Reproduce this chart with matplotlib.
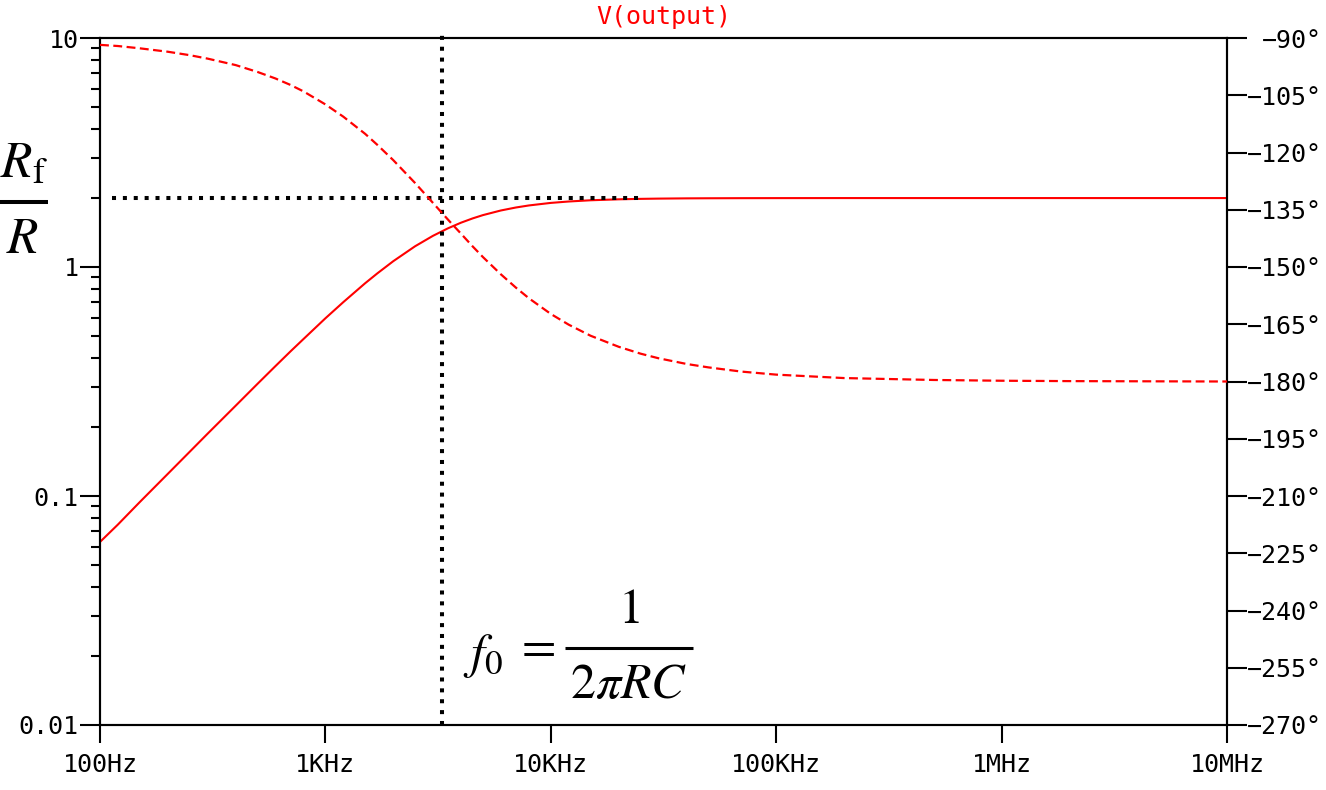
import matplotlib
matplotlib.use("Agg")
import matplotlib.pyplot as plt
from matplotlib.lines import Line2D
from matplotlib.ticker import FixedLocator, NullFormatter, LogLocator

plt.rcParams['font.family'] = ['DejaVu Sans Mono']
plt.rcParams['mathtext.fontset'] = 'stix'

# Frequencies (Hz) at which curve values were read
freq = [100, 120, 150, 200, 250, 300, 400, 500, 600, 700, 800, 1000, 1200,
        1500, 1700, 2000, 2500, 3000, 3500, 4000, 4500, 5000, 6000, 7000,
        8000, 10000, 12000, 15000, 20000, 25000, 30000, 40000, 50000, 70000,
        100000, 200000, 500000, 1e6, 2e6, 1e7]
# Gain |V(output)| (left log axis)
gain = [0.063, 0.075, 0.094, 0.125, 0.156, 0.187, 0.248, 0.309, 0.369, 0.428,
        0.485, 0.597, 0.702, 0.849, 0.938, 1.060, 1.232, 1.368, 1.476, 1.562,
        1.630, 1.685, 1.765, 1.819, 1.857, 1.905, 1.932, 1.956, 1.975, 1.984,
        1.989, 1.994, 1.996, 1.998, 1.999, 2.0, 2.0, 2.0, 2.0, 2.0]
# Phase in degrees (right axis)
phase = [-91.8, -92.1, -92.7, -93.6, -94.5, -95.4, -97.1, -98.9, -100.6,
         -102.3, -104.0, -107.4, -110.6, -115.1, -118.0, -122.0, -128.0,
         -133.2, -137.6, -141.3, -144.6, -147.4, -151.9, -155.4, -158.2,
         -162.3, -165.1, -168.0, -170.9, -172.7, -173.9, -175.4, -176.3,
         -177.4, -178.2, -179.1, -179.6, -179.8, -179.9, -180.0]

x_ticks = [1e2, 1e3, 1e4, 1e5, 1e6, 1e7]
x_labels = ["100Hz", "1KHz", "10KHz", "100KHz", "1MHz", "10MHz"]
y_ticks = [0.01, 0.1, 1, 10]
y_labels = ["0.01", "0.1", "1", "10"]
p_ticks = list(range(-270, -89, 15))
p_labels = ["\u2212%d\u00b0" % (-p) for p in p_ticks]

f0 = 3290        # corner frequency marker
gain_hf = 2.0    # high-frequency gain marker
hline_span = (113, 24800)

W, H = 1326, 790
fig = plt.figure(figsize=(W / 100, H / 100), dpi=100)


def fx(px):
    return px / W


def fy(py):
    return 1 - py / H


ax = fig.add_axes([100 / W, 1 - 725 / H, 1127 / W, 687 / H])

ax.set_xscale('log')
ax.set_yscale('log')
ax.set_xlim(1e2, 1e7)
ax.set_ylim(0.01, 10)

ax.plot(freq, gain, color='red', lw=1.5, zorder=3)

ax2 = ax.twinx()
ax2.set_ylim(-270, -90)
ax2.plot(freq, phase, color='red', lw=1.6, dashes=(4, 2), zorder=3)

# markers (dotted black)
ax.plot(hline_span, [gain_hf, gain_hf], color='black', lw=2.9,
        dashes=(1, 1.7), dash_capstyle='butt', zorder=4)
ax.plot([f0, f0], [0.01, 10.3], color='black', lw=2.9,
        dashes=(1, 1.7), dash_capstyle='butt', zorder=4, clip_on=False)

for a in (ax, ax2):
    for s in a.spines.values():
        s.set_linewidth(1.5)

ax.xaxis.set_major_locator(FixedLocator(x_ticks))
ax.set_xticklabels(x_labels)
ax.xaxis.set_minor_locator(LogLocator(base=10, subs=range(2, 10), numticks=20))
ax.xaxis.set_minor_formatter(NullFormatter())
ax.yaxis.set_major_locator(FixedLocator(y_ticks))
ax.set_yticklabels(y_labels)
ax.yaxis.set_minor_locator(LogLocator(base=10, subs=range(2, 10), numticks=20))
ax.yaxis.set_minor_formatter(NullFormatter())

ax.tick_params(axis='x', which='major', direction='out', length=13, width=1.5,
               labelsize=18, pad=7)
ax.tick_params(axis='x', which='minor', direction='out', length=6, width=1.5)
ax.tick_params(axis='y', which='major', direction='out', length=14.4, width=1.5,
               labelsize=18, pad=1)
ax.tick_params(axis='y', which='minor', direction='out', length=6.5, width=1.5)

ax2.yaxis.set_major_locator(FixedLocator(p_ticks))
ax2.set_yticklabels(p_labels)
ax2.tick_params(axis='y', which='major', direction='out', length=14.4, width=1.5,
                labelsize=18, pad=54)
for lab in ax2.get_yticklabels():
    lab.set_horizontalalignment('right')
ax2.minorticks_off()

ax.set_title("V(output)", color='red', fontsize=18, pad=10)

# Y label: Rf / R built as a fraction
fig.text(fx(0), fy(177), r'$R_\mathrm{f}$', fontsize=37, ha='left', va='baseline')
fig.text(fx(22), fy(253), r'$R$', fontsize=37, ha='center', va='baseline')
fig.add_artist(Line2D([fx(0), fx(48)], [fy(202), fy(202)], color='black',
                      lw=2.9, solid_capstyle='butt'))

# Formula f0 = 1 / (2 pi R C)
fig.text(fx(463), fy(668), r'$f_0$', fontsize=36, ha='left', va='baseline')
fig.text(fx(535), fy(660), r'$=$', fontsize=36, ha='center', va='baseline')
fig.text(fx(629), fy(623), r'$1$', fontsize=36, ha='center', va='baseline')
fig.text(fx(629), fy(698), r'$2\pi RC$', fontsize=36, ha='center', va='baseline')
fig.add_artist(Line2D([fx(565), fx(693)], [fy(648), fy(648)], color='black',
                      lw=2.2, solid_capstyle='butt'))

fig.savefig("out.png", dpi=100, facecolor='white')
